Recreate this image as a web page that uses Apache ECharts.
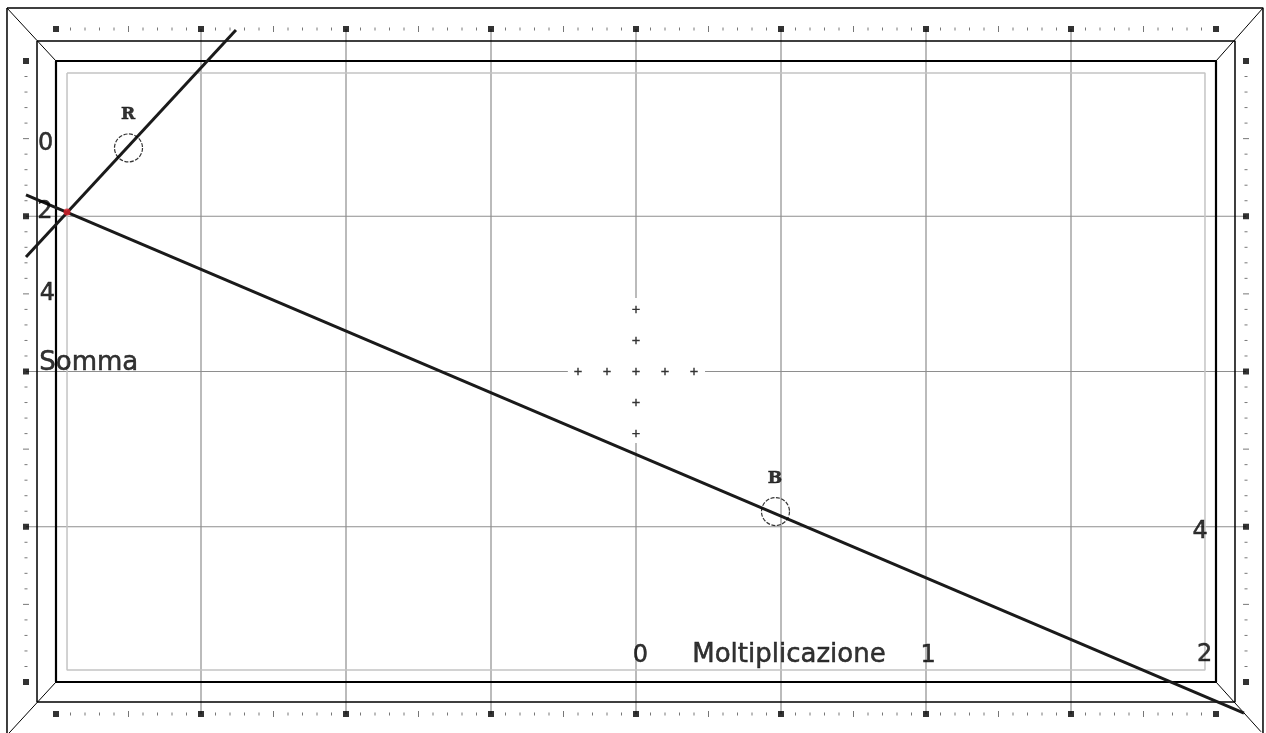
<!DOCTYPE html>
<html><head><meta charset="utf-8">
<script src="https://cdn.jsdelivr.net/npm/echarts@6/dist/echarts.min.js"></script>
<style>html,body{margin:0;padding:0;background:#fff}#c{width:1266px;height:733px}</style>
</head><body><div id="c"></div><script>
// Table units: x = diamonds along the long side (0..8), y = diamonds along the short side (0..4, downwards)
const outerFrame   = [[-0.338,-0.341],[8.324,-0.341],[8.324,4.34],[-0.338,4.34],[-0.338,-0.341]];
const railFrame    = [[-0.131,-0.129],[8.131,-0.129],[8.131,4.129],[-0.131,4.129],[-0.131,-0.129]];
const cushionFrame = [[0,0],[8,0],[8,4],[0,4],[0,0]];
const playFrame    = [[0.076,0.077],[7.924,0.077],[7.924,3.923],[0.076,3.923],[0.076,0.077]];
const cornerDiagonals = [
  [[-0.338,-0.341],[0,0]], [[8.324,-0.341],[8,0]],
  [[8.31,4.32],[8,4]],     [[-0.325,4.33],[0,4]]
];
const diamondsX = [0,1,2,3,4,5,6,7,8];
const diamondsY = [0,1,2,3,4];
const diamondRowY = [-0.206, 4.206];   // top and bottom diamond rows
const diamondColX = [-0.207, 8.207];   // left and right diamond columns
const gridSegments = [
  [[1,-0.206],[1,4.206]], [[2,-0.206],[2,4.206]], [[3,-0.206],[3,4.206]],
  [[4,-0.206],[4,1.527]], [[4,2.46],[4,4.206]],
  [[5,-0.206],[5,4.206]], [[6,-0.206],[6,4.206]], [[7,-0.206],[7,4.206]],
  [[-0.207,1],[8.207,1]], [[-0.207,2],[3.53,2]], [[4.476,2],[8.207,2]], [[-0.207,3],[8.207,3]]
];
const centerCrosses = [[4,1.6],[4,1.8],[4,2],[4,2.2],[4,2.4],[3.6,2],[3.8,2],[4.2,2],[4.4,2]];
const shotLineR = [[-0.207,1.262],[1.241,-0.2]];
const shotLineB = [[-0.207,0.863],[8.193,4.2]];
const contactPoint = [[0.076,0.973]];
const balls = [
  {name:'R', pos:[0.5,0.56],    labelPos:[0.497,0.345]},
  {name:'B', pos:[4.962,2.902], labelPos:[4.959,2.69]}
];
const scaleLabels = [
  {text:'0', pos:[-0.072,0.535], big:false}, {text:'2', pos:[-0.076,0.972], big:false},
  {text:'4', pos:[-0.059,1.497], big:false},
  {text:'Somma', pos:[0.226,1.945], big:true},
  {text:'0', pos:[4.031,3.828], big:false}, {text:'Moltiplicazione', pos:[5.055,3.83], big:true},
  {text:'1', pos:[6.014,3.83], big:false}, {text:'2', pos:[7.921,3.826], big:false},
  {text:'4', pos:[7.890,3.032], big:false}
];

// grid mapping: 1 x-unit = 145 px from x=56, 1 y-unit = 155.25 px from y=61
const X0 = -56/145, X1 = (1266-56)/145, Y0 = -61/155.25, Y1 = (733-61)/155.25;

// small rail ticks between diamonds (tenths, the half tick being longer)
const ticksH = [], ticksHMid = [], ticksV = [], ticksVMid = [];
for (let k = 0; k < diamondsX.length - 1; k++) {
  for (let j = 1; j < 10; j++) {
    const x = diamondsX[k] + j / 10;
    diamondRowY.forEach(y => (j === 5 ? ticksHMid : ticksH).push([x, y]));
  }
}
for (let k = 0; k < diamondsY.length - 1; k++) {
  for (let j = 1; j < 10; j++) {
    const y = diamondsY[k] + j / 10;
    diamondColX.forEach(x => (j === 5 ? ticksVMid : ticksV).push([x, y]));
  }
}
const diamondPts = [];
diamondsX.forEach(x => diamondRowY.forEach(y => diamondPts.push([x, y])));
diamondsY.forEach(y => diamondColX.forEach(x => diamondPts.push([x, y])));

function poly(data, color, width, z) {
  return {type:'line', data, symbol:'none', clip:false, silent:true, z:z||2,
          lineStyle:{color, width}, animation:false};
}
function dots(data, symbol, size, color, z) {
  return {type:'scatter', data, symbol, symbolSize:size, clip:false, silent:true, z:z||3,
          itemStyle:{color}, animation:false};
}
function texts(items, font, z) {
  return {type:'scatter', data: items, symbolSize:1, clip:false, silent:true, z:z||8, animation:false,
    itemStyle:{color:'rgba(0,0,0,0)'},
    label:Object.assign({show:true, position:'inside', formatter:p => p.name, color:'#000',
      textBorderColor:'#000', textBorderWidth:0.5,
      align:'center', verticalAlign:'middle'}, font)};
}
const series = [];
series.push(poly(outerFrame, '#000', 1.5));
series.push(poly(railFrame, '#000', 1.5));
series.push(poly(cushionFrame, '#000', 2.2));
series.push(poly(playFrame, '#c4c4c4', 1.5));
cornerDiagonals.forEach(d => series.push(poly(d, '#000', 1)));
gridSegments.forEach(g => series.push(poly(g, '#8e8e8e', 1.2, 1)));
series.push(dots(ticksH, 'rect', [1,3], '#555'));
series.push(dots(ticksHMid, 'rect', [1,6], '#555'));
series.push(dots(ticksV, 'rect', [3,1], '#555'));
series.push(dots(ticksVMid, 'rect', [6,1], '#555'));
series.push(dots(diamondPts, 'rect', [6,6], '#000', 4));
series.push(dots(centerCrosses, 'path://M3,0h1.4v3h3v1.4h-3v3h-1.4v-3h-3v-1.4h3z', 7.5, '#000'));
series.push(poly(shotLineR, '#1a1a1a', 3, 5));
series.push(poly(shotLineB, '#1a1a1a', 3, 5));
series.push({type:'scatter', data: balls.map(b => b.pos), symbol:'circle', symbolSize:28, clip:false,
  silent:true, z:6, animation:false,
  itemStyle:{color:'rgba(0,0,0,0)', borderColor:'#000', borderWidth:1.2, borderType:[4,1.5]}});
series.push(dots(contactPoint, 'circle', 7, '#e0202a', 7));
series.push(texts(balls.map(b => ({value:b.labelPos, name:b.name})),
  {fontFamily:'DejaVu Serif', fontWeight:'bold', fontSize:17}));
series.push(texts(scaleLabels.filter(l => !l.big).map(l => ({value:l.pos, name:l.text})),
  {fontFamily:'DejaVu Sans', fontSize:24}));
series.push(texts(scaleLabels.filter(l => l.big).map(l => ({value:l.pos, name:l.text})),
  {fontFamily:'DejaVu Sans', fontSize:26}));

const chart = echarts.init(document.getElementById('c'), null, {renderer:'canvas'});
chart.setOption({
  animation:false,
  backgroundColor:'#fff',
  grid:{left:0, right:0, top:0, bottom:0, containLabel:false},
  xAxis:{type:'value', min:X0, max:X1, show:false},
  yAxis:{type:'value', min:Y0, max:Y1, inverse:true, show:false},
  series
});
</script></body></html>
